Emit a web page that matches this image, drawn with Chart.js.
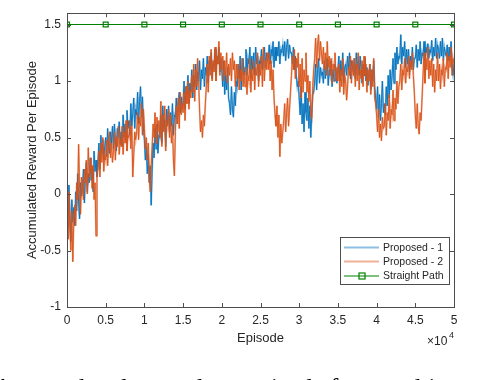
<!DOCTYPE html>
<html>
<head>
<meta charset="utf-8">
<script src="https://cdn.jsdelivr.net/npm/chart.js@4/dist/chart.umd.min.js"></script>
<style>
  body { margin: 0; background: #fff; }
  #wrap { position: relative; width: 480px; height: 380px; overflow: hidden; }
</style>
</head>
<body>
<div id="wrap"><canvas id="rewardChart" width="480" height="380"></canvas></div>
<script>
// ==================== DATA ====================
const episodeStep = 125; // one sample every 125 episodes, 0 .. 50000

// 8 samples per 1000 episodes
const proposed1 = [
    -0.1, -0.3, 0.08, -0.2, -0.42, -0.05, -0.25, -0.12,
    -0.28, 0.02, -0.15, 0.18, -0.08, -0.22, 0.1, -0.02,
    0.05, 0.22, -0.08, 0.15, 0.28, 0.02, 0.18, 0.1,
    0.32, 0.12, 0.25, 0.02, 0.38, 0.2, 0.3, 0.15,
    0.28, 0.45, 0.22, 0.52, 0.35, 0.48, 0.3, 0.42,
    0.5, 0.33, 0.58, 0.42, 0.36, 0.55, 0.45, 0.6,
    0.4, 0.62, 0.48, 0.38, 0.58, 0.5, 0.64, 0.44,
    0.55, 0.42, 0.7, 0.5, 0.62, 0.46, 0.74, 0.58,
    0.65, 0.52, 0.8, 0.6, 0.72, 0.85, 0.58, 0.75,
    0.7, 0.9, 0.62, 0.82, 0.95, 0.68, 0.86, 0.58,
    0.48, 0.3, 0.42, 0.18, 0.35, 0.1, 0.25, -0.1,
    0.2, 0.45, 0.32, 0.58, 0.4, 0.62, 0.36, 0.52,
    0.5, 0.7, 0.45, 0.78, 0.58, 0.66, 0.42, 0.75,
    0.62, 0.78, 0.55, 0.72, 0.6, 0.8, 0.52, 0.7,
    0.68, 0.85, 0.62, 0.8, 0.9, 0.72, 0.86, 0.75,
    0.82, 1.0, 0.75, 0.95, 0.88, 1.05, 0.8, 0.98,
    0.9, 1.1, 0.85, 1.05, 0.95, 1.15, 0.92, 1.08,
    1.0, 1.18, 0.92, 1.1, 1.02, 1.2, 0.95, 1.12,
    1.05, 1.22, 0.98, 1.18, 1.1, 1.25, 1.02, 1.15,
    1.12, 1.28, 1.05, 1.22, 1.15, 1.3, 1.08, 1.2,
    1.1, 0.95, 1.18, 0.88, 1.05, 0.92, 1.12, 0.85,
    0.8, 0.7, 0.95, 0.75, 0.68, 0.9, 0.78, 1.0,
    0.95, 1.15, 1.02, 1.22, 0.92, 1.1, 1.2, 1.05,
    1.12, 1.28, 1.05, 1.2, 1.15, 1.3, 1.02, 1.22,
    1.1, 1.25, 1.05, 1.3, 1.15, 1.22, 1.0, 1.18,
    1.15, 1.28, 1.1, 1.22, 1.3, 1.12, 1.25, 1.18,
    1.2, 1.32, 1.15, 1.28, 1.22, 1.35, 1.12, 1.3,
    1.18, 1.3, 1.22, 1.35, 1.15, 1.28, 1.25, 1.32,
    1.22, 1.35, 1.18, 1.3, 1.37, 1.2, 1.32, 1.25,
    1.25, 1.15, 1.3, 1.1, 1.22, 1.05, 0.95, 1.0,
    0.85, 0.7, 0.95, 0.62, 0.8, 0.55, 0.9, 0.72,
    0.65, 0.85, 0.58, 0.78, 0.5, 0.72, 0.88, 0.9,
    1.0, 1.15, 0.92, 1.1, 1.2, 0.98, 1.12, 1.05,
    1.08, 0.98, 1.18, 1.02, 1.12, 1.2, 0.96, 1.1,
    1.05, 1.18, 0.95, 1.1, 1.0, 1.15, 1.08, 0.98,
    1.1, 1.22, 1.0, 1.18, 1.05, 1.25, 0.98, 1.12,
    1.15, 1.05, 1.22, 1.1, 1.25, 1.02, 1.18, 1.12,
    1.08, 1.2, 1.02, 1.25, 1.12, 1.18, 1.05, 1.22,
    1.1, 0.98, 1.15, 1.05, 1.2, 1.0, 1.12, 0.96,
    1.05, 1.15, 0.92, 1.1, 1.0, 1.18, 0.95, 0.85,
    0.75, 0.95, 0.68, 0.88, 0.65, 0.8, 1.0, 0.72,
    0.8, 0.7, 0.95, 0.78, 1.05, 0.85, 1.1, 0.92,
    1.05, 1.2, 0.98, 1.25, 1.1, 1.3, 1.15, 1.22,
    1.2, 1.41, 1.15, 1.3, 1.22, 1.35, 1.12, 1.28,
    1.15, 1.28, 1.08, 1.22, 1.12, 1.3, 1.1, 1.2,
    1.2, 1.32, 1.12, 1.28, 1.18, 1.35, 1.15, 1.25,
    1.22, 1.35, 1.18, 1.3, 1.25, 1.33, 1.2, 1.28,
    1.25, 1.36, 1.18, 1.3, 1.22, 1.38, 1.2, 1.32,
    1.28, 1.2, 1.35, 1.22, 1.38, 1.18, 1.3, 1.25,
    1.22, 1.32, 1.18, 1.3, 1.2, 1.35, 1.12, 1.05,
    1.15
];

const proposed2 = [
    -0.2, -0.4, 0.02, -0.3, -0.5, -0.15, -0.6, -0.25,
    -0.1, -0.28, 0.1, -0.05, 0.44, 0.05, -0.18, 0.15,
    0.08, -0.05, 0.22, 0.1, 0.3, 0.0, 0.41, 0.15,
    0.2, 0.32, 0.05, 0.25, -0.05, 0.1, -0.37, 0.18,
    0.22, 0.38, 0.15, 0.45, 0.28, 0.5, 0.2, 0.35,
    0.3, 0.48, 0.25, 0.42, 0.55, 0.32, 0.45, 0.28,
    0.38, 0.55, 0.3, 0.5, 0.42, 0.6, 0.35, 0.48,
    0.42, 0.6, 0.35, 0.55, 0.45, 0.65, 0.38, 0.52,
    0.5, 0.65, 0.4, 0.6, 0.15, 0.35, 0.55, 0.48,
    0.55, 0.72, 0.48, 0.68, 0.6, 0.8, 0.52, 0.75,
    0.58, 0.4, 0.5, 0.3, 0.45, 0.15, 0.02, 0.25,
    0.42, 0.62, 0.5, 0.72, 0.45, 0.68, 0.55, 0.65,
    0.5, 0.82, 0.42, 0.7, 0.55, 0.78, 0.38, 0.65,
    0.6, 0.75, 0.5, 0.7, 0.45, 0.62, 0.3, 0.16,
    0.55, 0.78, 0.62, 0.85, 0.58, 0.9, 0.7, 0.8,
    0.72, 0.9, 0.65, 0.95, 0.8, 1.0, 0.75, 0.92,
    0.85, 1.05, 0.9, 1.15, 0.82, 1.1, 0.95, 1.2,
    1.0, 0.75, 0.55, 0.65, 0.5, 0.7, 0.6, 0.8,
    0.95, 1.15, 0.9, 1.22, 1.05, 1.28, 1.0, 1.18,
    1.08, 1.3, 1.0, 1.22, 1.15, 1.35, 1.05, 1.25,
    1.1, 1.22, 1.0, 1.18, 1.05, 1.25, 0.98, 1.15,
    1.05, 1.2, 1.0, 1.25, 1.1, 1.18, 0.95, 1.15,
    1.02, 1.15, 0.92, 1.1, 1.0, 1.2, 0.95, 1.08,
    0.95, 1.12, 0.88, 1.05, 1.0, 1.2, 0.9, 1.1,
    1.0, 1.18, 0.92, 1.12, 1.05, 1.25, 0.95, 1.15,
    1.05, 1.22, 0.95, 1.3, 1.0, 1.18, 1.1, 1.25,
    1.1, 1.25, 1.0, 1.18, 0.92, 1.1, 0.85, 0.7,
    0.6, 0.78, 0.5, 0.7, 0.33, 0.62, 0.45, 0.55,
    0.65, 0.8, 0.55, 0.72, 0.85, 0.6, 0.75, 0.9,
    1.05, 1.22, 1.1, 1.28, 1.02, 1.2, 1.12, 1.25,
    0.95, 1.15, 0.85, 1.2, 0.9, 1.1, 1.0, 1.25,
    0.9, 1.05, 0.82, 1.0, 0.7, 0.67, 0.95, 1.1,
    1.2, 1.38, 1.12, 1.32, 1.41, 1.18, 1.35, 1.25,
    1.15, 1.3, 1.1, 1.25, 1.05, 1.35, 1.12, 1.22,
    1.05, 1.2, 0.98, 1.15, 1.1, 1.25, 1.0, 1.12,
    1.0, 1.15, 0.9, 1.1, 0.95, 1.2, 0.88, 1.05,
    1.0, 0.83, 0.95, 1.12, 1.05, 1.22, 0.98, 1.18,
    1.05, 1.2, 0.95, 1.15, 1.0, 1.25, 0.92, 1.1,
    1.02, 1.18, 0.95, 1.22, 1.05, 1.15, 0.9, 1.1,
    1.0, 1.15, 0.88, 1.1, 0.95, 1.2, 0.85, 0.8,
    0.7, 0.55, 0.75, 0.5, 0.62, 0.47, 0.68, 0.58,
    0.6, 0.8, 0.52, 0.72, 0.65, 0.88, 0.58, 0.75,
    0.7, 0.92, 0.65, 0.85, 0.75, 1.0, 0.8, 0.95,
    1.0, 1.15, 0.92, 1.1, 1.05, 1.2, 0.98, 1.12,
    1.08, 1.22, 1.02, 1.18, 1.1, 1.25, 1.05, 0.9,
    0.7, 0.58, 0.8, 0.6, 0.53, 0.72, 0.65, 0.85,
    1.05, 1.25, 0.98, 1.2, 1.1, 1.3, 1.02, 1.18,
    1.05, 1.2, 0.95, 1.15, 0.9, 1.1, 1.0, 1.25,
    1.0, 1.15, 0.93, 1.1, 1.05, 1.2, 0.95, 1.12,
    1.1, 1.25, 1.02, 1.22, 1.12, 1.3, 1.05, 1.2,
    1.15
];

const straightEpisodes = [0, 5000, 10000, 15000, 20000, 25000, 30000, 35000, 40000, 45000, 50000];
const straightPath = [1.5, 1.5, 1.5, 1.5, 1.5, 1.5, 1.5, 1.5, 1.5, 1.5, 1.5];

const xTicks = [0, 5000, 10000, 15000, 20000, 25000, 30000, 35000, 40000, 45000, 50000];
const xTickLabels = ['0', '0.5', '1', '1.5', '2', '2.5', '3', '3.5', '4', '4.5', '5'];
const yTicks = [-1, -0.5, 0, 0.5, 1, 1.5];
const yTickLabels = ['-1', '-0.5', '0', '0.5', '1', '1.5'];

const seriesNames = ['Proposed - 1', 'Proposed - 2', 'Straight Path'];

// ==================== STYLE ====================
const BLUE = '#0072BD';
const BLUE_LIGHT = 'rgba(0, 114, 189, 0.45)';
const ORANGE = '#D95319';
const ORANGE_LIGHT = 'rgba(217, 83, 25, 0.45)';
const GREEN = '#008000';
const AXIS = '#4d4d4d';
const TEXT = '#262626';
const FONT = '"Liberation Sans", Arial, sans-serif';

function toPoints(values) {
    return values.map((v, i) => ({ x: i * episodeStep, y: v }));
}

const straightPoints = straightEpisodes.map((e, i) => ({ x: e, y: straightPath[i] }));

// draws the matlab-ish box, inward ticks, titles and legend
const matlabDecor = {
    id: 'matlabDecor',
    afterDraw(chart) {
        const { ctx, chartArea: a, scales } = chart;
        const xs = scales.x, ys = scales.y;
        const tl = 4;
        ctx.save();
        ctx.strokeStyle = AXIS;
        ctx.lineWidth = 1;
        ctx.strokeRect(Math.round(a.left) + 0.5, Math.round(a.top) + 0.5,
            Math.round(a.right - a.left), Math.round(a.bottom - a.top));

        ctx.beginPath();
        xTicks.forEach(v => {
            const px = Math.round(xs.getPixelForValue(v)) + 0.5;
            ctx.moveTo(px, a.bottom); ctx.lineTo(px, a.bottom - tl);
            ctx.moveTo(px, a.top); ctx.lineTo(px, a.top + tl);
        });
        yTicks.forEach(v => {
            const py = Math.round(ys.getPixelForValue(v)) + 0.5;
            ctx.moveTo(a.left, py); ctx.lineTo(a.left + tl, py);
            ctx.moveTo(a.right, py); ctx.lineTo(a.right - tl, py);
        });
        ctx.stroke();

        // axis titles
        ctx.fillStyle = TEXT;
        ctx.font = '13px ' + FONT;
        ctx.textAlign = 'center';
        ctx.textBaseline = 'middle';
        ctx.fillText('Episode', (a.left + a.right) / 2, 338);
        ctx.save();
        ctx.translate(32, (a.top + a.bottom) / 2);
        ctx.rotate(-Math.PI / 2);
        ctx.fillText('Accumulated Reward Per Episode', 0, 0);
        ctx.restore();

        // x10^4 exponent label
        ctx.textAlign = 'left';
        ctx.textBaseline = 'alphabetic';
        ctx.font = '12px ' + FONT;
        ctx.fillText('\u00d710', 427, 345);
        ctx.font = '9px ' + FONT;
        ctx.fillText('4', 449, 338);

        // legend
        const lx = 340.5, ly = 237.5, lw = 109, lh = 47;
        ctx.fillStyle = '#fff';
        ctx.fillRect(lx, ly, lw, lh);
        ctx.strokeStyle = AXIS;
        ctx.strokeRect(lx, ly, lw, lh);
        const rows = [247.5, 261.5, 276];
        const colors = [BLUE_LIGHT, ORANGE_LIGHT, GREEN];
        ctx.font = '10.5px ' + FONT;
        ctx.textBaseline = 'middle';
        rows.forEach((ry, i) => {
            ctx.strokeStyle = colors[i];
            ctx.lineWidth = i < 2 ? 2 : 1.2;
            ctx.beginPath();
            ctx.moveTo(344, ry); ctx.lineTo(379, ry);
            ctx.stroke();
            if (i === 2) {
                ctx.lineWidth = 1.2;
                ctx.strokeRect(359, ry - 3, 6, 6);
            }
            ctx.fillStyle = TEXT;
            ctx.fillText(seriesNames[i], 383, ry + 0.5);
        });

        // caption of the page below the figure (clipped at the bottom)
        ctx.fillStyle = '#000';
        ctx.font = '25px "Liberation Serif", "Times New Roman", serif';
        ctx.textBaseline = 'alphabetic';
        ctx.fillText('Accumulated reward per episode for a multi-agent', -6, 396);
        ctx.restore();
    }
};

const ctx = document.getElementById('rewardChart').getContext('2d');
const rewardChart = new Chart(ctx, {
    type: 'line',
    data: {
        datasets: [
            {
                label: seriesNames[2],
                data: straightPoints,
                borderColor: GREEN,
                borderWidth: 1.2,
                pointStyle: 'rect',
                pointRadius: 3.5,
                pointBackgroundColor: 'rgba(0,0,0,0)',
                pointBorderColor: GREEN,
                pointBorderWidth: 1.2,
                order: 0
            },
            {
                label: seriesNames[1],
                data: toPoints(proposed2),
                borderColor: ORANGE,
                borderWidth: 0.9,
                pointRadius: 0,
                order: 1
            },
            {
                label: seriesNames[1] + ' (raw)',
                data: toPoints(proposed2),
                borderColor: ORANGE_LIGHT,
                borderWidth: 1.8,
                pointRadius: 0,
                order: 2
            },
            {
                label: seriesNames[0],
                data: toPoints(proposed1),
                borderColor: BLUE,
                borderWidth: 0.9,
                pointRadius: 0,
                order: 3
            },
            {
                label: seriesNames[0] + ' (raw)',
                data: toPoints(proposed1),
                borderColor: BLUE_LIGHT,
                borderWidth: 1.8,
                pointRadius: 0,
                order: 4
            }
        ]
    },
    options: {
        responsive: false,
        animation: false,
        events: [],
        layout: { padding: { left: 0, right: 26, top: 1, bottom: 0 } },
        plugins: {
            legend: { display: false },
            tooltip: { enabled: false }
        },
        scales: {
            x: {
                type: 'linear',
                min: 0,
                max: 50000,
                grid: { display: false, drawTicks: false },
                border: { display: false },
                afterBuildTicks: scale => { scale.ticks = xTicks.map(v => ({ value: v })); },
                afterFit: scale => { scale.height = 73; },
                ticks: {
                    autoSkip: false,
                    maxRotation: 0,
                    padding: 6,
                    color: TEXT,
                    font: { family: FONT, size: 12 },
                    callback: (v, i) => xTickLabels[i]
                }
            },
            y: {
                min: -1,
                max: 1.6,
                grid: { display: false, drawTicks: false },
                border: { display: false },
                afterBuildTicks: scale => { scale.ticks = yTicks.map(v => ({ value: v })); },
                afterFit: scale => { scale.width = 67; },
                ticks: {
                    autoSkip: false,
                    padding: 6,
                    color: TEXT,
                    font: { family: FONT, size: 12 },
                    callback: (v, i) => yTickLabels[i]
                }
            }
        }
    },
    plugins: [matlabDecor]
});
</script>
</body>
</html>
